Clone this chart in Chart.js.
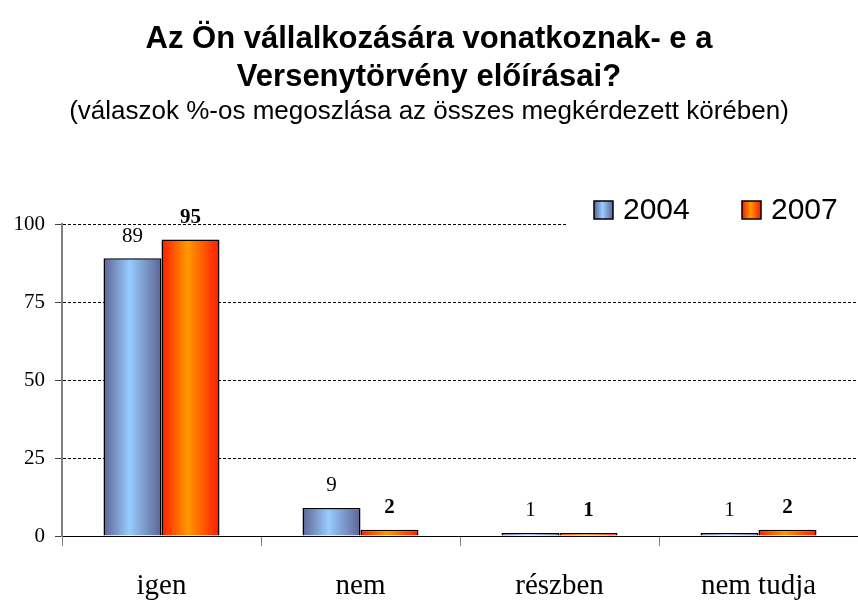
<!DOCTYPE html>
<html>
<head>
<meta charset="utf-8">
<script src="https://cdn.jsdelivr.net/npm/chart.js@4/dist/chart.umd.min.js"></script>
<style>
  html, body { margin: 0; padding: 0; background: #fff; }
  #wrap { width: 858px; height: 601px; }
</style>
</head>
<body>
<div id="wrap"><canvas id="myChart"></canvas></div>
<script>
  const categories = ['igen', 'nem', 'részben', 'nem tudja'];
  const seriesNames = ['2004', '2007'];
  const values2004 = [89, 9, 1, 1];
  const values2007 = [95, 2, 1, 2];
  const yTickValues = [0, 25, 50, 75, 100];

  const catPct = 0.583;
  const blueStops = ['#5c6494', '#99ccff', '#5c6494'];
  const orangeStops = ['#ff1a00', '#ff9900', '#ff1a00'];

  function makeGradient(ctx, left, width, stops) {
      let g = ctx.createLinearGradient(left, 0, left + width, 0);
      g.addColorStop(0, stops[0]);
      g.addColorStop(0.45, stops[1]);
      g.addColorStop(1, stops[2]);
      return g;
  }

  // bar fill: horizontal gradient across each bar, positions taken from the x scale
  function barFill(stops) {
      return function (c) {
          const chart = c.chart;
          const xScale = chart.scales.x;
          if (!xScale || c.dataIndex === undefined || !xScale.width) {
              return stops[1];
          }
          const catWidth = xScale.width / categories.length;
          const barW = catWidth * catPct / 2;
          const center = xScale.getPixelForValue(c.dataIndex);
          const left = center - catWidth * catPct / 2 + c.datasetIndex * barW;
          return makeGradient(chart.ctx, left, barW, stops);
      };
  }

  const valueLabels = {
      id: 'valueLabels',
      afterDatasetsDraw(chart) {
          const ctx = chart.ctx;
          ctx.save();
          ctx.fillStyle = '#000';
          ctx.textAlign = 'center';
          ctx.textBaseline = 'middle';
          chart.data.datasets.forEach((ds, i) => {
              const meta = chart.getDatasetMeta(i);
              ctx.font = (i === 1 ? 'bold ' : '') + '21px "Liberation Serif"';
              meta.data.forEach((bar, j) => {
                  ctx.fillText(ds.data[j], bar.x, bar.y - 22);
              });
          });
          ctx.restore();
      }
  };

  const boxLegend = {
      id: 'boxLegend',
      afterDraw(chart) {
          const ctx = chart.ctx;
          const items = [
              { x: 594, stops: blueStops, text: seriesNames[0] },
              { x: 742, stops: orangeStops, text: seriesNames[1] }
          ];
          ctx.save();
          ctx.fillStyle = '#fff';
          ctx.fillRect(566, 194, 292, 34);
          items.forEach(it => {
              ctx.fillStyle = makeGradient(ctx, it.x, 19, it.stops);
              ctx.fillRect(it.x, 201, 19, 18);
              ctx.strokeStyle = '#000';
              ctx.lineWidth = 1.5;
              ctx.strokeRect(it.x, 201, 19, 18);
              ctx.fillStyle = '#000';
              ctx.font = '30px "Liberation Sans"';
              ctx.textAlign = 'left';
              ctx.textBaseline = 'middle';
              ctx.fillText(it.text, it.x + 29, 211);
          });
          ctx.restore();
      }
  };

  let ctx = document.getElementById('myChart').getContext('2d');

  let myChart = new Chart(ctx, {
      type: 'bar',
      data: {
          labels: categories,
          datasets: [{
              label: seriesNames[0],
              data: values2004,
              backgroundColor: barFill(blueStops),
              borderColor: '#000',
              borderWidth: 1.5,
              categoryPercentage: catPct,
              barPercentage: 1
          }, {
              label: seriesNames[1],
              data: values2007,
              backgroundColor: barFill(orangeStops),
              borderColor: '#000',
              borderWidth: 1.5,
              categoryPercentage: catPct,
              barPercentage: 1
          }]
      },
      options: {
          responsive: true,
          maintainAspectRatio: false,
          animation: false,
          layout: { padding: 0 },
          scales: {
              x: {
                  grid: {
                      drawOnChartArea: false,
                      drawTicks: true,
                      tickLength: 10,
                      color: '#808080',
                      offset: true
                  },
                  border: { color: '#000', width: 1 },
                  ticks: {
                      color: '#000',
                      padding: 23,
                      font: { family: 'Liberation Serif', size: 29 }
                  },
                  afterFit: s => { s.height = 65; }
              },
              y: {
                  min: 0,
                  max: 100,
                  afterBuildTicks: s => { s.ticks = yTickValues.map(v => ({ value: v })); },
                  grid: {
                      color: '#000',
                      lineWidth: 1,
                      tickLength: 7,
                      tickColor: '#444',
                      tickBorderDash: []
                  },
                  border: { color: '#808080', width: 2, dash: [3, 2] },
                  ticks: {
                      color: '#000',
                      padding: 10,
                      font: { family: 'Liberation Serif', size: 21 }
                  },
                  afterFit: s => { s.width = 62; }
              }
          },
          plugins: {
              legend: { display: false },
              tooltip: { enabled: false },
              title: {
                  display: true,
                  text: ['Az Ön vállalkozására vonatkoznak- e a', 'Versenytörvény előírásai?'],
                  color: '#000',
                  font: { family: 'Liberation Sans', size: 31, weight: 'bold', lineHeight: 1.226 },
                  padding: { top: 20, bottom: 0 }
              },
              subtitle: {
                  display: true,
                  text: '(válaszok %-os megoszlása az összes megkérdezett körében)',
                  color: '#000',
                  font: { family: 'Liberation Sans', size: 26, lineHeight: 1.2 },
                  padding: { top: 0, bottom: 96.8 }
              }
          }
      },
      plugins: [valueLabels, boxLegend]
  });
</script>
</body>
</html>
